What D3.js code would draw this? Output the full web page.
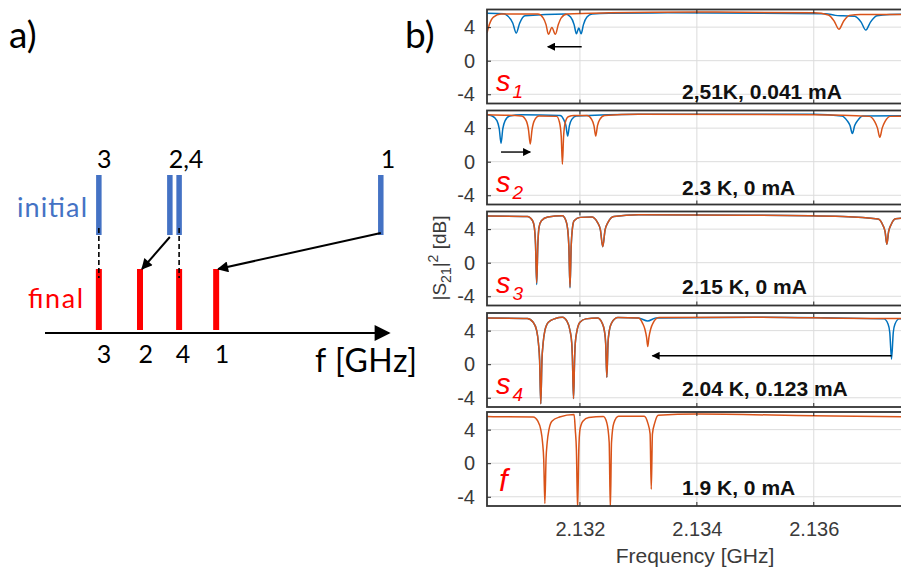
<!DOCTYPE html>
<html>
<head>
<meta charset="utf-8">
<script src="https://cdn.jsdelivr.net/npm/d3@7"></script>
<style>
  body { margin: 0; background: #fff; }
  svg { display: block; }
</style>
</head>
<body>
<script>
// ---------- panel a data ----------
const modeNames = ['3', '2', '4', '1'];
const initialPos = [15.7, 36.4, 39.1, 97.9];
const finalPos = [15.7, 27.7, 39.1, 49.9];
const topLabelText = ['3', '2,4', '1'];
const topLabelPos = [17.3, 41.1, 100];
const bottomLabelPos = [17.2, 29.4, 40.2, 51.6];
const movedModes = [1, 3]; // index of modes with an arrow (2 and 1)
const dashedModes = [0, 2]; // modes that stay (3 and 4)

// ---------- panel b data ----------
const xTicks = [2.132, 2.134, 2.136];
const yTicks = [-4, 0, 4];
const panelNames = ['1', '2', '3', '4', ''];
const panelConditions = ['2,51K, 0.041 mA', '2.3 K, 0 mA', '2.15 K, 0 mA', '2.04 K, 0.123 mA', '1.9 K, 0 mA'];

// [frequency GHz, |S21|^2 dB]
const blue1 = [[2.13041,5.65],[2.1307,5.6],[2.13076,5.35],[2.13085,4.5],[2.13091,3.3],[2.13097,4.5],[2.13106,5.35],
  [2.13175,5.55],[2.13184,5.2],[2.1319,4.3],[2.13194,3.2],[2.13198,3.9],[2.13202,3.2],[2.13206,4.3],[2.13212,5.2],[2.13221,5.55],
  [2.1325,5.65],[2.1335,5.7],[2.1362,5.6],[2.13637,5.4],[2.1365,5.35],[2.1367,5.3],[2.13681,4.6],[2.13689,3.65],[2.13697,4.6],[2.13708,5.35],[2.1373,5.5],[2.1378,5.55]];
const orange1 = [[2.13041,3.3],[2.13045,4.3],[2.13052,5.2],[2.13065,5.55],
  [2.13128,5.55],[2.13137,5.1],[2.13142,4.3],[2.13146,3.15],[2.13152,3.95],[2.13158,3.15],[2.13163,4.3],[2.13168,5.1],[2.13178,5.55],
  [2.1325,5.7],[2.134,5.8],[2.136,5.7],[2.13625,5.45],[2.13635,4.7],[2.13643,3.75],[2.13651,4.7],[2.13661,5.4],[2.1368,5.5],[2.1378,5.5]];

const blue2 = [[2.13041,5.6],[2.1305,5.45],[2.13058,4.9],[2.13062,3.9],[2.13065,2.2],[2.13068,3.9],[2.13072,4.9],[2.1308,5.45],[2.131,5.6],
  [2.13166,5.5],[2.13172,5.05],[2.13176,4.3],[2.13179,3.05],[2.13182,4.3],[2.13186,5.05],[2.13194,5.45],
  [2.133,5.65],[2.136,5.65],[2.13648,5.45],[2.13657,4.9],[2.13662,4.3],[2.13666,3.35],[2.1367,4.3],[2.13675,4.9],[2.13684,5.45],[2.1378,5.5]];
const orange2 = [[2.13041,5.6],[2.131,5.45],[2.13108,4.9],[2.13112,3.8],[2.13115,2.1],[2.13118,3.8],[2.13122,4.9],[2.1313,5.45],
  [2.1316,5.4],[2.13165,4.7],[2.13168,3.0],[2.1317,-0.3],[2.13172,3.0],[2.13175,4.7],[2.1318,5.35],[2.1319,5.5],
  [2.13212,5.5],[2.1322,5.05],[2.13224,4.3],[2.13227,3.05],[2.1323,4.3],[2.13234,5.05],[2.13242,5.5],
  [2.133,5.65],[2.136,5.6],[2.13695,5.4],[2.13704,4.8],[2.13709,4.0],[2.13713,2.9],[2.13717,4.0],[2.13722,4.8],[2.13731,5.4],[2.1378,5.45]];

const blue3 = [[2.13041,5.55],[2.1311,5.5],[2.13119,5.0],[2.13122,4.2],[2.13124,2.2],[2.13126,-2.6],[2.13128,2.2],[2.1313,4.2],[2.13134,5.0],[2.13145,5.45],
  [2.1317,5.6],[2.13176,5.0],[2.13179,4.0],[2.13181,2.0],[2.13183,-3.0],[2.13185,2.0],[2.13187,4.0],[2.1319,5.0],[2.132,5.4],
  [2.1322,5.45],[2.1323,4.8],[2.13235,3.9],[2.13239,1.9],[2.13243,3.9],[2.13248,4.8],[2.13258,5.5],
  [2.133,5.7],[2.135,5.65],[2.1365,5.5],[2.1371,5.2],[2.13718,4.5],[2.13722,3.7],[2.13725,2.2],[2.13728,3.7],[2.13732,4.5],[2.1374,5.25],[2.1378,5.4]];
const orange3 = [[2.13041,5.55],[2.1311,5.5],[2.13119,5.0],[2.13122,4.2],[2.13124,2.2],[2.13126,-2.4],[2.13128,2.2],[2.1313,4.2],[2.13134,5.0],[2.13145,5.45],
  [2.1317,5.6],[2.13176,5.0],[2.13179,4.0],[2.13181,2.0],[2.13183,-2.9],[2.13185,2.0],[2.13187,4.0],[2.1319,5.0],[2.132,5.4],
  [2.1322,5.45],[2.1323,4.8],[2.13235,3.9],[2.13239,1.9],[2.13243,3.9],[2.13248,4.8],[2.13258,5.5],
  [2.133,5.7],[2.135,5.65],[2.1365,5.5],[2.1371,5.2],[2.13718,4.5],[2.13722,3.7],[2.13725,2.2],[2.13728,3.7],[2.13732,4.5],[2.1374,5.25],[2.1378,5.4]];

const blue4 = [[2.13041,5.5],[2.1311,5.45],[2.1312,5.0],[2.13126,4.0],[2.13129,2.5],[2.13131,0.5],[2.13133,-4.7],[2.13135,0.5],[2.13137,2.5],[2.1314,4.0],[2.13146,5.0],[2.13158,5.45],
  [2.1317,5.6],[2.13178,5.1],[2.13183,4.0],[2.13186,2.5],[2.13187,1.0],[2.13189,-4.1],[2.13191,1.0],[2.13192,2.5],[2.13195,4.0],[2.132,5.0],[2.1321,5.4],
  [2.1323,5.5],[2.13238,4.9],[2.13242,3.9],[2.13244,2.5],[2.13246,-1.55],[2.13248,2.5],[2.1325,3.9],[2.13254,4.9],[2.13265,5.55],
  [2.133,5.5],[2.13316,5.15],[2.1333,5.5],[2.135,5.6],[2.1372,5.4],[2.13727,4.8],[2.1373,3.8],[2.13733,0.6],[2.13736,3.8],[2.13739,4.8],[2.13746,5.4],[2.1378,5.45]];
const orange4 = [[2.13041,5.5],[2.1311,5.45],[2.1312,5.0],[2.13126,4.0],[2.13129,2.5],[2.13131,0.5],[2.13133,-4.7],[2.13135,0.5],[2.13137,2.5],[2.1314,4.0],[2.13146,5.0],[2.13158,5.45],
  [2.1317,5.6],[2.13178,5.1],[2.13183,4.0],[2.13186,2.5],[2.13187,1.0],[2.13189,-4.1],[2.13191,1.0],[2.13192,2.5],[2.13195,4.0],[2.132,5.0],[2.1321,5.4],
  [2.1323,5.5],[2.13238,4.9],[2.13242,3.9],[2.13244,2.5],[2.13246,-1.55],[2.13248,2.5],[2.1325,3.9],[2.13254,4.9],[2.13265,5.55],
  [2.133,5.5],[2.13307,4.9],[2.13311,4.2],[2.13314,3.2],[2.13316,2.1],[2.13318,3.2],[2.13321,4.2],[2.13325,4.9],[2.13335,5.55],
  [2.135,5.6],[2.137,5.45],[2.1378,5.45]];

const orange5 = [[2.13041,5.55],[2.1312,5.5],[2.13128,5.0],[2.13133,4.0],[2.13136,2.5],[2.13138,0.5],[2.1314,-4.8],[2.13142,0.5],[2.13144,2.5],[2.13147,4.0],[2.13152,5.0],[2.13165,5.5],
  [2.1319,5.8],[2.13192,4.0],[2.13194,1.5],[2.13196,-5.5],[2.13198,1.5],[2.132,4.0],[2.13205,5.0],[2.13215,5.45],
  [2.1324,5.55],[2.13246,4.8],[2.1325,2.5],[2.13252,-5.5],[2.13254,2.5],[2.13258,4.8],[2.13266,5.6],
  [2.1331,5.6],[2.13316,4.8],[2.1332,3.5],[2.13322,-3.1],[2.13324,3.5],[2.13328,4.8],[2.13334,5.7],[2.134,5.85],[2.136,5.65],[2.1378,5.5]];

// arrows in panel b: [panel, f start, dB start, f end, dB end]
const spectrumArrows = [[0, 2.13203, 1.67, 2.13145, 1.67], [1, 2.13065, 1.15, 2.13115, 1.15], [3, 2.13733, 1.0, 2.13324, 1.0]];

const blueTraces = [blue1, blue2, blue3, blue4, null];
const orangeTraces = [orange1, orange2, orange3, orange4, orange5];

const blueCol = '#0072BD', orangeCol = '#D95319';

const svg = d3.select('body').append('svg').attr('width', 901).attr('height', 569);
const defs = svg.append('defs');

function marker(id, w, h) {
  defs.append('marker').attr('id', id)
    .attr('viewBox', '0 0 10 10').attr('refX', 9).attr('refY', 5)
    .attr('markerUnits', 'userSpaceOnUse')
    .attr('markerWidth', w).attr('markerHeight', h)
    .attr('orient', 'auto')
    .append('path').attr('d', 'M0,0 L10,5 L0,10 z').attr('fill', '#000');
}
marker('headBig', 18, 16);
marker('headMid', 14, 11);
marker('headSmall', 11, 8);

// ================= panel a =================
const fa = "Lato, 'Open Sans', sans-serif";
const xa = d3.scaleLinear().domain([0, 100]).range([45, 388]);

svg.append('text').attr('x', 9).attr('y', 48).attr('font-family', fa).attr('font-size', 37).text('a)');
svg.append('text').attr('x', 405).attr('y', 48).attr('font-family', fa).attr('font-size', 37).text('b)');

// axis arrow
svg.append('line').attr('x1', 45).attr('y1', 333).attr('x2', 389).attr('y2', 333)
  .attr('stroke', '#000').attr('stroke-width', 2.2).attr('marker-end', 'url(#headBig)');

// initial bars
svg.selectAll('.ini').data(initialPos).join('line').attr('class', 'ini')
  .attr('x1', d => xa(d)).attr('x2', d => xa(d))
  .attr('y1', 175).attr('y2', 235)
  .attr('stroke', '#4472C4').attr('stroke-width', 5.5);

// final bars
svg.selectAll('.fin').data(finalPos).join('line').attr('class', 'fin')
  .attr('x1', d => xa(d)).attr('x2', d => xa(d))
  .attr('y1', 269).attr('y2', 330)
  .attr('stroke', '#FF0000').attr('stroke-width', 6);

// dashed connectors
svg.selectAll('.dash').data(dashedModes).join('line').attr('class', 'dash')
  .attr('x1', i => xa(initialPos[i])).attr('x2', i => xa(finalPos[i]))
  .attr('y1', 228).attr('y2', 278)
  .attr('stroke', '#000').attr('stroke-width', 1.6).attr('stroke-dasharray', '5,3');

// arrows for moved modes
svg.selectAll('.mv').data(movedModes).join('line').attr('class', 'mv')
  .attr('x1', i => xa(initialPos[i])).attr('y1', i => i === 3 ? 233 : 237)
  .attr('x2', i => xa(finalPos[i]) + 2).attr('y2', 269)
  .attr('stroke', '#000').attr('stroke-width', 2).attr('marker-end', 'url(#headMid)');

svg.selectAll('.tl').data(topLabelText).join('text').attr('class', 'tl')
  .attr('x', (d, i) => xa(topLabelPos[i])).attr('y', 168)
  .attr('text-anchor', 'middle').attr('font-family', fa).attr('font-size', 25)
  .text(d => d);
svg.selectAll('.bl').data(modeNames).join('text').attr('class', 'bl')
  .attr('x', (d, i) => xa(bottomLabelPos[i])).attr('y', 363)
  .attr('text-anchor', 'middle').attr('font-family', fa).attr('font-size', 25)
  .text(d => d);

svg.append('text').attr('x', 17).attr('y', 217).attr('font-family', fa).attr('font-size', 27)
  .attr('fill', '#4472C4').attr('textLength', 70).text('initial');
svg.append('text').attr('x', 28).attr('y', 308).attr('font-family', fa).attr('font-size', 27)
  .attr('fill', '#FF0000').attr('textLength', 55).text('final');
svg.append('text').attr('x', 315).attr('y', 372).attr('font-family', fa).attr('font-size', 32)
  .attr('textLength', 102).text('f [GHz]');

// ================= panel b =================
const fb = "'Liberation Sans', Arial, sans-serif";
const plotLeft = 487, plotRight = 919;
const panelTops = [9.5, 110.5, 211.5, 313, 412];
const panelH = 94;
const condOffset = [89, 84, 82, 83, 83];

const x = d3.scaleLinear().domain([2.13041, 2.1378]).range([plotLeft, plotRight]);

panelTops.forEach((top, p) => {
  const y = d3.scaleLinear().domain([-5.1, 6.1]).range([top + panelH, top]);
  const g = svg.append('g');

  defs.append('clipPath').attr('id', 'clip' + p).append('rect')
    .attr('x', plotLeft).attr('y', top).attr('width', plotRight - plotLeft).attr('height', panelH);

  // grid
  g.selectAll('.gx').data(xTicks).join('line')
    .attr('x1', d => x(d)).attr('x2', d => x(d)).attr('y1', top).attr('y2', top + panelH)
    .attr('stroke', '#dcdcdc').attr('stroke-width', 1);
  g.selectAll('.gy').data(yTicks).join('line')
    .attr('x1', plotLeft).attr('x2', plotRight).attr('y1', d => y(d)).attr('y2', d => y(d))
    .attr('stroke', '#dcdcdc').attr('stroke-width', 1);

  // traces
  const line = d3.line().x(d => x(d[0])).y(d => y(d[1])).curve(d3.curveMonotoneX);
  const traces = g.append('g').attr('clip-path', 'url(#clip' + p + ')');
  if (blueTraces[p]) {
    traces.append('path').datum(blueTraces[p]).attr('d', line)
      .attr('fill', 'none').attr('stroke', blueCol).attr('stroke-width', 1.5);
  }
  traces.append('path').datum(orangeTraces[p]).attr('d', line)
    .attr('fill', 'none').attr('stroke', orangeCol).attr('stroke-width', 1.5);

  // y axis labels and inward ticks
  const ya = g.append('g').attr('transform', `translate(${plotLeft},0)`)
    .call(d3.axisLeft(y).tickValues(yTicks).tickSize(-4).tickPadding(12).tickFormat(d => String(d)));
  ya.select('.domain').remove();
  ya.selectAll('.tick line').attr('stroke', '#262626');
  ya.selectAll('.tick text').attr('font-family', fb).attr('font-size', 20).attr('fill', '#3a3a3a');

  // x ticks (top and bottom, inward)
  g.selectAll('.tb').data(xTicks).join('line')
    .attr('x1', d => x(d)).attr('x2', d => x(d)).attr('y1', top + panelH).attr('y2', top + panelH - 4)
    .attr('stroke', '#262626');
  g.selectAll('.tt').data(xTicks).join('line')
    .attr('x1', d => x(d)).attr('x2', d => x(d)).attr('y1', top).attr('y2', top + 4)
    .attr('stroke', '#262626');

  // frame
  g.append('rect').attr('x', plotLeft).attr('y', top).attr('width', plotRight - plotLeft).attr('height', panelH)
    .attr('fill', 'none').attr('stroke', '#333').attr('stroke-width', 1.8);

  // panel label s_n / f
  const lab = g.append('text').attr('x', 496).attr('y', top + 81)
    .attr('font-family', fb).attr('font-style', 'italic').attr('fill', '#FF0000');
  if (panelNames[p]) {
    lab.attr('font-size', 29).text('s');
    lab.append('tspan').attr('font-size', 19).attr('dy', 7).attr('dx', 2).text(panelNames[p]);
  } else {
    lab.attr('font-size', 31).attr('x', 499).attr('y', top + 79).text('f');
  }

  // condition text
  g.append('text').attr('x', 682).attr('y', top + condOffset[p])
    .attr('font-family', fb).attr('font-weight', 'bold').attr('font-size', 21)
    .attr('fill', '#111').text(panelConditions[p]);

  // arrows
  spectrumArrows.filter(a => a[0] === p).forEach(a => {
    g.append('line').attr('x1', x(a[1])).attr('y1', y(a[2])).attr('x2', x(a[3])).attr('y2', y(a[4]))
      .attr('stroke', '#000').attr('stroke-width', 1.4).attr('marker-end', 'url(#headSmall)');
  });

  // bottom x-axis labels only on last panel
  if (p === panelTops.length - 1) {
    const xa2 = g.append('g').attr('transform', `translate(0,${top + panelH})`)
      .call(d3.axisBottom(x).tickValues(xTicks).tickSize(0).tickPadding(16).tickFormat(d3.format('.3f')));
    xa2.select('.domain').remove();
    xa2.selectAll('.tick text').attr('font-family', fb).attr('font-size', 20).attr('fill', '#3a3a3a');
  }
});

// axis titles
svg.append('text').attr('x', 695).attr('y', 563).attr('text-anchor', 'middle')
  .attr('font-family', fb).attr('font-size', 21).attr('fill', '#3a3a3a').text('Frequency [GHz]');

const yt = svg.append('text').attr('transform', 'translate(446,258) rotate(-90)').attr('text-anchor', 'middle')
  .attr('font-family', fb).attr('font-size', 19).attr('fill', '#3a3a3a');
yt.append('tspan').text('|S');
yt.append('tspan').attr('font-size', 14).attr('dy', 5).text('21');
yt.append('tspan').attr('dy', -5).text('|');
yt.append('tspan').attr('font-size', 14).attr('dy', -8).text('2');
yt.append('tspan').attr('dy', 8).text(' [dB]');
</script>
</body>
</html>
